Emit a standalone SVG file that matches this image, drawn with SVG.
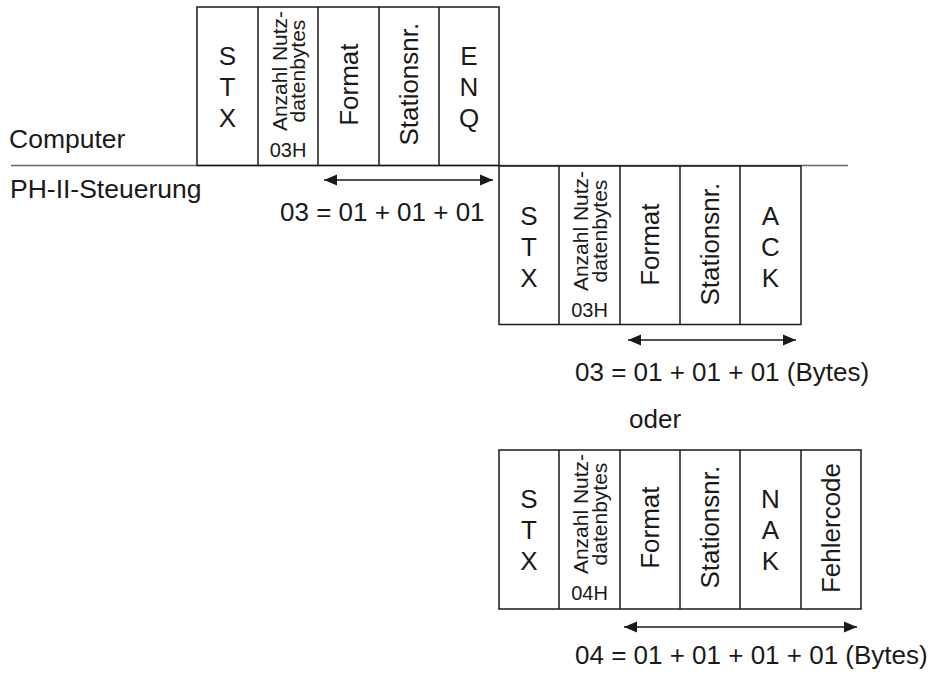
<svg xmlns="http://www.w3.org/2000/svg" width="932" height="674" viewBox="0 0 932 674">
  <style>
    text { font-family: "Liberation Sans", Arial, sans-serif; fill: #1a1a1a; }
    .big { font-size: 26px; }
    .side { font-size: 26.5px; }
    .mid { font-size: 21px; }
    .sm { font-size: 20px; }
    .c { text-anchor: middle; }
    .box { fill: none; stroke: #1a1a1a; stroke-width: 1.5; }
    .div { stroke: #1a1a1a; stroke-width: 1.5; }
    .sep { stroke: #666; stroke-width: 1.3; fill: none; }
    .arr { stroke: #1a1a1a; stroke-width: 1.5; fill: none; marker-start: url(#ah); marker-end: url(#ah); }
  </style>
  <defs>
    <marker id="ah" markerUnits="userSpaceOnUse" markerWidth="14" markerHeight="12" refX="13" refY="6" orient="auto-start-reverse">
      <path d="M0,0.5 L13,6 L0,11.5 z" fill="#1a1a1a"/>
    </marker>
  </defs>

  <g id="side-labels">
    <text class="side" x="9" y="148">Computer</text>
    <text class="side" x="10" y="198">PH-II-Steuerung</text>
  </g>

  <g id="connectors">
    <line class="sep" x1="11" y1="165.5" x2="848" y2="165.5"/>
    <line class="arr" x1="324" y1="180" x2="493" y2="180"/>
    <line class="arr" x1="628" y1="340" x2="796" y2="340"/>
    <line class="arr" x1="624" y1="627" x2="857" y2="627"/>
  </g>

  <g id="frame-enq">
    <rect class="box" x="197" y="7" width="302" height="158.5"/>
    <line class="div" x1="258" y1="7" x2="258" y2="165.5"/>
    <line class="div" x1="318" y1="7" x2="318" y2="165.5"/>
    <line class="div" x1="379" y1="7" x2="379" y2="165.5"/>
    <line class="div" x1="439" y1="7" x2="439" y2="165.5"/>
    <text class="big c" x="227.5" y="65">S<tspan x="227.5" y="96">T</tspan><tspan x="227.5" y="127">X</tspan></text>
    <text class="mid c" transform="translate(286.5,71) rotate(-90)">Anzahl Nutz-</text>
    <text class="mid c" transform="translate(305,71) rotate(-90)">datenbytes</text>
    <text class="sm c" x="288" y="157">03H</text>
    <text class="big c" transform="translate(357.8,84.7) rotate(-90)">Format</text>
    <text class="big c" transform="translate(418.3,84.2) rotate(-90)">Stationsnr.</text>
    <text class="big c" x="469" y="65">E<tspan x="469" y="96">N</tspan><tspan x="469" y="127">Q</tspan></text>
  </g>

  <g id="label-enq">
    <text class="big" x="280" y="220.5">03 = 01 + 01 + 01</text>
  </g>

  <g id="frame-ack">
    <rect class="box" x="499" y="166" width="302" height="158.5"/>
    <line class="div" x1="559" y1="166" x2="559" y2="324.5"/>
    <line class="div" x1="620" y1="166" x2="620" y2="324.5"/>
    <line class="div" x1="680" y1="166" x2="680" y2="324.5"/>
    <line class="div" x1="740" y1="166" x2="740" y2="324.5"/>
    <text class="big c" x="529" y="225">S<tspan x="529" y="256">T</tspan><tspan x="529" y="287">X</tspan></text>
    <text class="mid c" transform="translate(588,231) rotate(-90)">Anzahl Nutz-</text>
    <text class="mid c" transform="translate(606.5,231) rotate(-90)">datenbytes</text>
    <text class="sm c" x="589.5" y="317">03H</text>
    <text class="big c" transform="translate(659.3,244.7) rotate(-90)">Format</text>
    <text class="big c" transform="translate(719.3,244.2) rotate(-90)">Stationsnr.</text>
    <text class="big c" x="770.5" y="225">A<tspan x="770.5" y="256">C</tspan><tspan x="770.5" y="287">K</tspan></text>
  </g>

  <g id="label-ack">
    <text class="big" x="575" y="381">03 = 01 + 01 + 01 (Bytes)</text>
    <text class="big" x="629" y="428">oder</text>
  </g>

  <g id="frame-nak">
    <rect class="box" x="499" y="450" width="362" height="159"/>
    <line class="div" x1="559" y1="450" x2="559" y2="609"/>
    <line class="div" x1="620" y1="450" x2="620" y2="609"/>
    <line class="div" x1="680" y1="450" x2="680" y2="609"/>
    <line class="div" x1="740" y1="450" x2="740" y2="609"/>
    <line class="div" x1="801" y1="450" x2="801" y2="609"/>
    <text class="big c" x="529" y="508">S<tspan x="529" y="539">T</tspan><tspan x="529" y="570">X</tspan></text>
    <text class="mid c" transform="translate(588,514) rotate(-90)">Anzahl Nutz-</text>
    <text class="mid c" transform="translate(606.5,514) rotate(-90)">datenbytes</text>
    <text class="sm c" x="589.5" y="600">04H</text>
    <text class="big c" transform="translate(659.3,527.7) rotate(-90)">Format</text>
    <text class="big c" transform="translate(719.3,527.2) rotate(-90)">Stationsnr.</text>
    <text class="big c" x="770.5" y="508">N<tspan x="770.5" y="539">A</tspan><tspan x="770.5" y="570">K</tspan></text>
    <text class="big c" transform="translate(840.3,528) rotate(-90)">Fehlercode</text>
  </g>

  <g id="label-nak">
    <text class="big" x="575" y="664">04 = 01 + 01 + 01 + 01 (Bytes)</text>
  </g>
</svg>
